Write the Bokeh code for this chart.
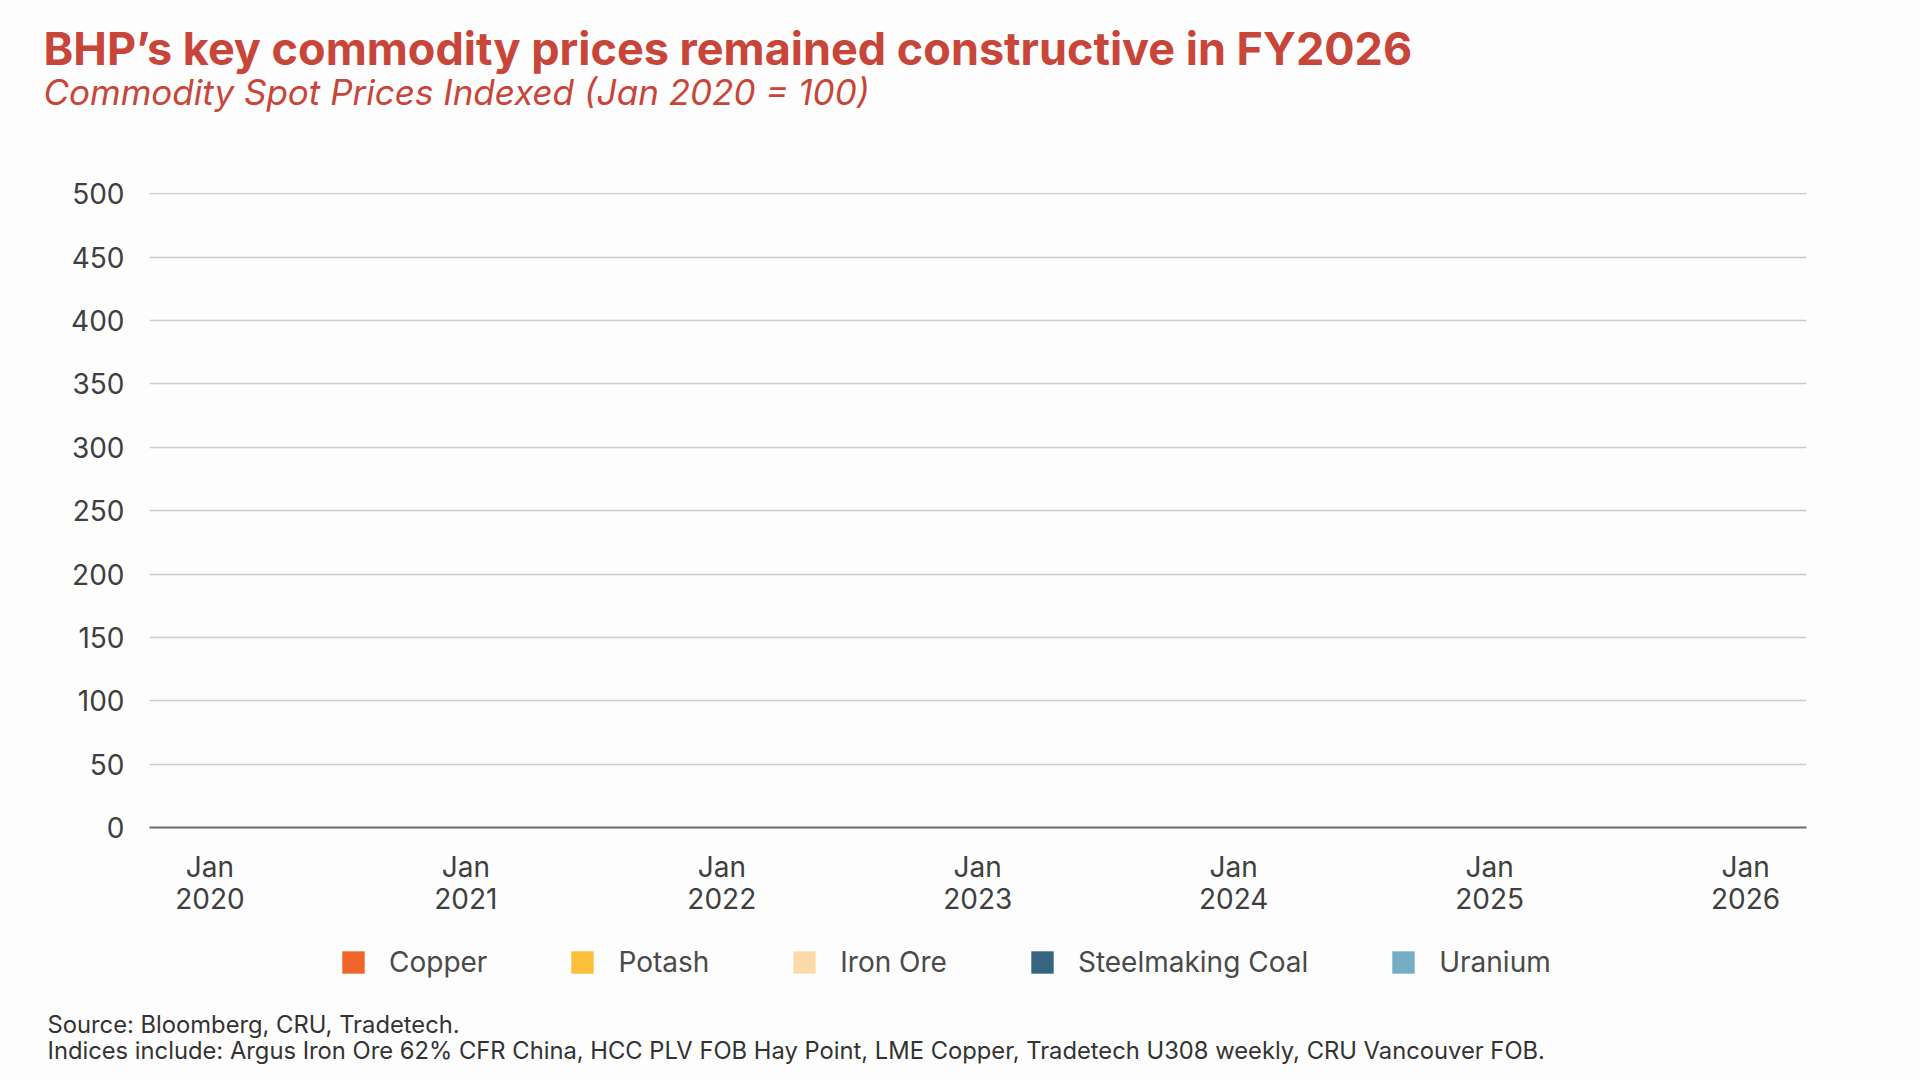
from bokeh.plotting import figure
from bokeh.layouts import column
from bokeh.models import Range1d, FixedTicker, Title, Legend, LegendItem
from bokeh.embed import file_html
from bokeh.resources import INLINE

# ---------------- data ----------------
title_text = "BHP\u2019s key commodity prices remained constructive in FY2026"
subtitle_text = "Commodity Spot Prices Indexed (Jan 2020 = 100)"
source_lines = [
    "Source: Bloomberg, CRU, Tradetech.",
    "Indices include: Argus Iron Ore 62% CFR China, HCC PLV FOB Hay Point, "
    "LME Copper, Tradetech U308 weekly, CRU Vancouver FOB.",
]

series_names = ["Copper", "Potash", "Iron Ore", "Steelmaking Coal", "Uranium"]
series_colors = ["#F0652A", "#FBBF3A", "#FDDBA9", "#36657F", "#76ADC5"]

# The reference plots no price history; the only value it states is the
# index base (Jan 2020 = 100), which draws no visible area on its own.
dates = [2020.0]
copper = [100]
potash = [100]
iron_ore = [100]
steelmaking_coal = [100]
uranium = [100]
series_values = [copper, potash, iron_ore, steelmaking_coal, uranium]

x_tick_years = [2020, 2021, 2022, 2023, 2024, 2025, 2026]
x_tick_labels = ["Jan\n2020", "Jan\n2021", "Jan\n2022", "Jan\n2023",
                 "Jan\n2024", "Jan\n2025", "Jan\n2026"]
y_ticks = [0, 50, 100, 150, 200, 250, 300, 350, 400, 450, 500]

# ---------------- styles ----------------
FONT = "Inter"
BG = "#FDFDFD"
RED = "#C8453A"

x_range = Range1d(2019.764, 2026.238)
y_range = Range1d(0, 501)

# ---------------- main chart ----------------
p = figure(width=1920, height=920, frame_width=1657, frame_height=635,
           x_range=x_range, y_range=y_range,
           output_backend="svg", toolbar_location=None, title=None,
           min_border_left=149, min_border_right=114,
           min_border_top=192, min_border_bottom=93,
           background_fill_color=BG, border_fill_color=BG,
           outline_line_color=None)

for name, color, vals in zip(series_names, series_colors, series_values):
    p.varea(x=dates, y1=[0] * len(vals), y2=vals, fill_color=color, fill_alpha=1.0)

p.xaxis.ticker = FixedTicker(ticks=x_tick_years)
p.xaxis.major_label_overrides = {y: l for y, l in zip(x_tick_years, x_tick_labels)}
p.xaxis.axis_line_color = "#6B6B6B"
p.xaxis.axis_line_width = 2
p.xaxis.major_label_standoff = 22
p.xaxis.major_label_text_line_height = 0.97

p.yaxis.ticker = FixedTicker(ticks=y_ticks)
p.yaxis.axis_line_color = None
p.yaxis.major_label_standoff = 25

for ax in (p.xaxis, p.yaxis):
    ax.major_tick_out = 0
    ax.major_tick_in = 0
    ax.minor_tick_out = 0
    ax.minor_tick_in = 0
    ax.major_label_text_font = FONT
    ax.major_label_text_font_size = "28px"
    ax.major_label_text_color = "#3F3F3F"

p.xgrid.visible = False
p.ygrid.grid_line_color = "#CCCCCC"
p.ygrid.grid_line_width = 1.5

# titles (above: the first added sits closest to the frame); the two trailing
# line breaks of the subtitle keep the gap between subtitle and chart area
p.add_layout(Title(text=subtitle_text + "\n\n", align="left", offset=-106, standoff=-9,
                   text_font=FONT, text_font_size="35px", text_font_style="italic",
                   text_color=RED), "above")
p.add_layout(Title(text=title_text, align="left", offset=-106, standoff=-5,
                   text_font=FONT, text_font_size="45px", text_font_style="bold",
                   text_color=RED), "above")

# ---------------- legend strip + source notes ----------------
q = figure(width=1920, height=160, frame_width=1920, frame_height=80,
           x_range=x_range, y_range=y_range,
           x_axis_type=None, y_axis_type=None,
           output_backend="svg", toolbar_location=None, title=None,
           min_border_left=0, min_border_right=0,
           min_border_top=0, min_border_bottom=80,
           background_fill_color=BG, border_fill_color=BG,
           outline_line_color=None)

legend_renderers = []
for name, color, vals in zip(series_names, series_colors, series_values):
    r = q.varea(x=dates, y1=[0] * len(vals), y2=vals, fill_color=color, fill_alpha=1.0)
    legend_renderers.append(r)

legend = Legend(items=[LegendItem(label=n, renderers=[r])
                       for n, r in zip(series_names, legend_renderers)],
                orientation="horizontal", location=(339, 21),
                padding=0, margin=0, spacing=81, label_standoff=22,
                glyph_width=28, glyph_height=28,
                label_text_font=FONT, label_text_font_size="28px",
                label_text_color="#4A4A4A",
                border_line_color=None, background_fill_alpha=0)
q.add_layout(legend)

q.add_layout(Title(text="\n".join(source_lines), align="left", offset=-102, standoff=14,
                   text_font=FONT, text_font_size="23.75px", text_font_style="normal",
                   text_line_height=0.92, text_color="#333333"), "below")

layout = column(p, q, spacing=0)
open("out.html", "w").write(file_html(layout, INLINE))
